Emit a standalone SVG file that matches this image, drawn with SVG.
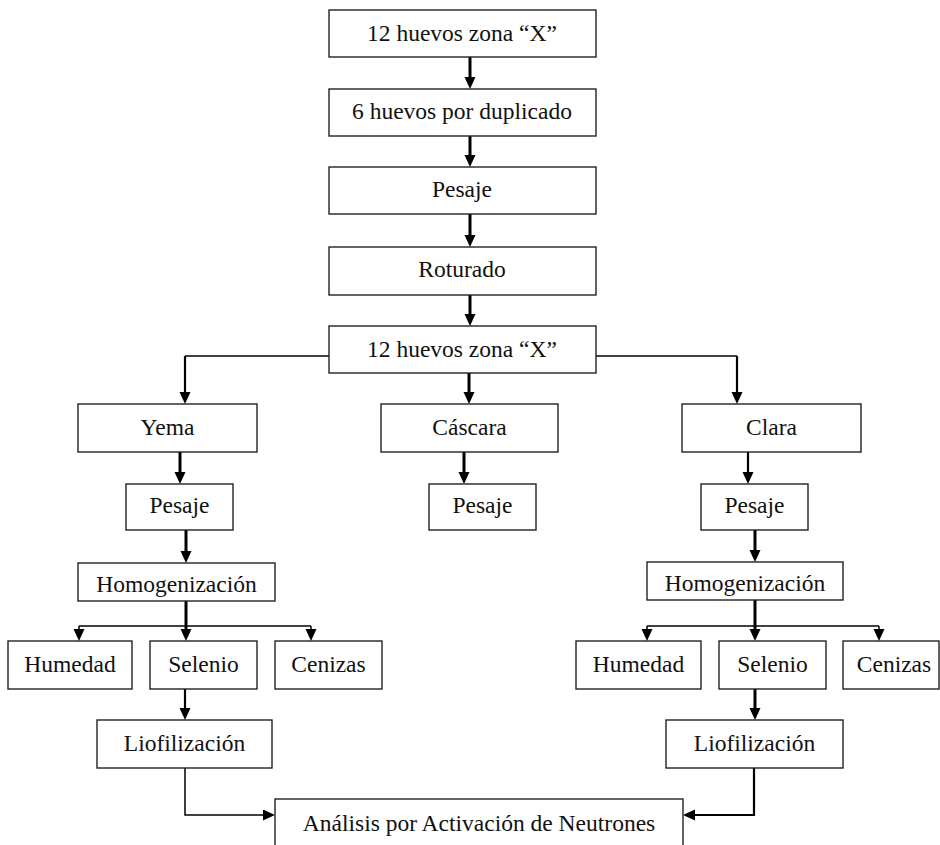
<svg xmlns="http://www.w3.org/2000/svg" width="940" height="845" viewBox="0 0 940 845">
<style>
  .box { fill: #ffffff; stroke: #222222; stroke-width: 1.4; }
  .lbl { font-family: "Liberation Serif", "Times New Roman", serif; font-size: 23.5px; fill: #111111; text-anchor: middle; }
  .thick { fill: none; stroke: #000000; stroke-width: 3; }
  .mid { fill: none; stroke: #000000; stroke-width: 2.2; }
  .thin { fill: none; stroke: #000000; stroke-width: 1.5; }
  .arr { marker-end: url(#ah); }
</style>
<defs>
  <marker id="ah" markerUnits="userSpaceOnUse" markerWidth="12" markerHeight="12" refX="2" refY="5.5" orient="auto">
    <path d="M0,0 L12,5.5 L0,11 z" fill="#000000"/>
  </marker>
</defs>
<rect x="0" y="0" width="940" height="845" fill="#ffffff"/>

<g id="connectors">
  <path class="thick arr" d="M470,57 V79"/>
  <path class="thick arr" d="M470,136 V157"/>
  <path class="thick arr" d="M470,214 V237"/>
  <path class="thick arr" d="M470,295 V316"/>
  <path class="thin" d="M329,356 H185"/>
  <path class="mid arr" d="M185,356 V394"/>
  <path class="thick arr" d="M469,373 V394"/>
  <path class="thin" d="M596,356 H737"/>
  <path class="mid arr" d="M737,356 V394"/>
  <path class="thick arr" d="M180,452 V474"/>
  <path class="thick arr" d="M464,452 V474"/>
  <path class="mid arr" d="M748,452 V474"/>
  <path class="thick arr" d="M186,530 V553"/>
  <path class="thick arr" d="M755,530 V552"/>
  <path class="thick arr" d="M186,592 V631"/>
  <path class="thin" d="M79,626 H311"/>
  <path class="thin arr" d="M79,626 V631"/>
  <path class="thin arr" d="M311,626 V631"/>
  <path class="thick arr" d="M755,592 V631"/>
  <path class="thin" d="M647,626 H879"/>
  <path class="thin arr" d="M647,626 V631"/>
  <path class="thin arr" d="M879,626 V631"/>
  <path class="mid arr" d="M185,689 V710"/>
  <path class="thick arr" d="M755,689 V710"/>
  <path class="thin arr" d="M185,768 V815 H265"/>
  <path class="mid arr" d="M754,768 V815 H693"/>
</g>

<g id="n1"><rect class="box" x="329" y="10" width="267" height="47"/><text class="lbl" x="462" y="41">12 huevos zona “X”</text></g>
<g id="n2"><rect class="box" x="329" y="89" width="267" height="47"/><text class="lbl" x="462" y="119">6 huevos por duplicado</text></g>
<g id="n3"><rect class="box" x="329" y="167" width="267" height="47"/><text class="lbl" x="462" y="197">Pesaje</text></g>
<g id="n4"><rect class="box" x="329" y="247" width="267" height="48"/><text class="lbl" x="462" y="277">Roturado</text></g>
<g id="n5"><rect class="box" x="329" y="326" width="267" height="47"/><text class="lbl" x="462" y="357">12 huevos zona “X”</text></g>

<g id="yema"><rect class="box" x="78" y="404" width="179" height="48"/><text class="lbl" x="167.5" y="435">Yema</text></g>
<g id="cascara"><rect class="box" x="381" y="404" width="177" height="48"/><text class="lbl" x="469.5" y="435">Cáscara</text></g>
<g id="clara"><rect class="box" x="682" y="404" width="179" height="48"/><text class="lbl" x="771.5" y="435">Clara</text></g>

<g id="pesaje-l"><rect class="box" x="126" y="484" width="107" height="46"/><text class="lbl" x="179.5" y="513">Pesaje</text></g>
<g id="pesaje-c"><rect class="box" x="429" y="484" width="107" height="46"/><text class="lbl" x="482.5" y="513">Pesaje</text></g>
<g id="pesaje-r"><rect class="box" x="701" y="484" width="107" height="46"/><text class="lbl" x="754.5" y="513">Pesaje</text></g>

<g id="homog-l"><rect class="box" x="78" y="563" width="197" height="38"/><text class="lbl" x="176.5" y="592">Homogenización</text></g>
<g id="homog-r"><rect class="box" x="647" y="562" width="196" height="38"/><text class="lbl" x="745" y="591">Homogenización</text></g>

<g id="humedad-l"><rect class="box" x="8" y="641" width="124" height="48"/><text class="lbl" x="70" y="672">Humedad</text></g>
<g id="selenio-l"><rect class="box" x="150" y="641" width="107" height="48"/><text class="lbl" x="203.5" y="672">Selenio</text></g>
<g id="cenizas-l"><rect class="box" x="275" y="641" width="107" height="48"/><text class="lbl" x="328.5" y="672">Cenizas</text></g>

<g id="humedad-r"><rect class="box" x="576" y="641" width="125" height="48"/><text class="lbl" x="638.5" y="672">Humedad</text></g>
<g id="selenio-r"><rect class="box" x="719" y="641" width="107" height="48"/><text class="lbl" x="772.5" y="672">Selenio</text></g>
<g id="cenizas-r"><rect class="box" x="843" y="641" width="96" height="48"/><text class="lbl" x="894" y="672">Cenizas</text></g>

<g id="liof-l"><rect class="box" x="97" y="720" width="175" height="48"/><text class="lbl" x="184.5" y="751">Liofilización</text></g>
<g id="liof-r"><rect class="box" x="666" y="720" width="177" height="48"/><text class="lbl" x="754.5" y="751">Liofilización</text></g>

<g id="analisis"><rect class="box" x="275" y="799" width="408" height="70"/><text class="lbl" x="479" y="831">Análisis por Activación de Neutrones</text></g>
</svg>
